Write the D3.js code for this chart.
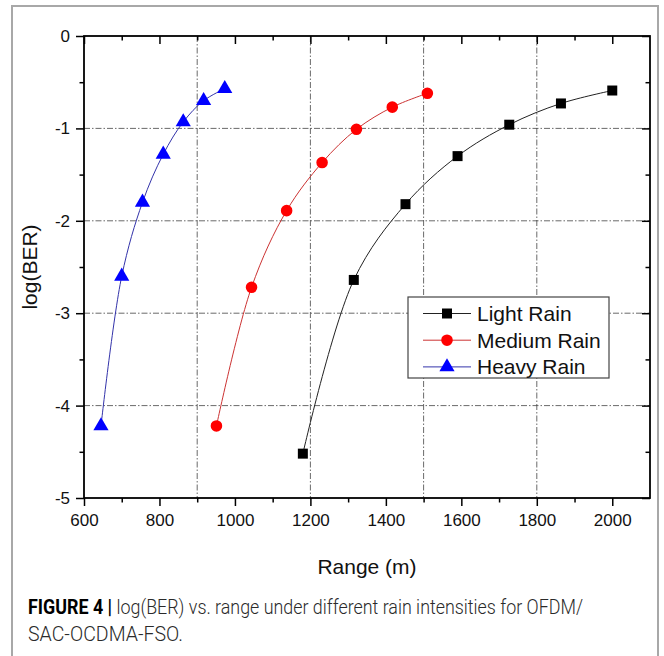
<!DOCTYPE html>
<html>
<head>
<meta charset="utf-8">
<script src="https://cdn.jsdelivr.net/npm/d3@7/dist/d3.min.js"></script>
<style>
  html, body { margin: 0; padding: 0; background: #fff; }
  svg { display: block; }
</style>
</head>
<body>
<svg id="chart" width="664" height="656"></svg>
<script>
// ---- data ----
const lightRange  = [1180, 1315, 1452, 1590, 1727, 1864, 2000];
const lightBER    = [-4.52, -2.64, -1.82, -1.30, -0.96, -0.73, -0.59];
const mediumRange = [951, 1044, 1137, 1231, 1322, 1417, 1510];
const mediumBER   = [-4.22, -2.72, -1.89, -1.37, -1.01, -0.77, -0.62];
const heavyRange  = [645, 700, 755, 810, 863, 917, 973];
const heavyBER    = [-4.22, -2.60, -1.80, -1.28, -0.93, -0.70, -0.57];
const seriesNames = ["Light Rain", "Medium Rain", "Heavy Rain"];
const xTickValues = [600, 800, 1000, 1200, 1400, 1600, 1800, 2000];
const yTickValues = [0, -1, -2, -3, -4, -5];
const xGridValues = [900, 1200, 1500, 1800];
const yGridValues = [-1, -2, -3, -4];
const xLabel = "Range (m)";
const yLabel = "log(BER)";
const captionBold = "FIGURE 4 |";
const captionLine1 = " log(BER) vs. range under different rain intensities for OFDM/";
const captionLine2 = "SAC-OCDMA-FSO.";

(function () {
const svg = d3.select("#chart");
const FONT = "'Liberation Sans', Arial, sans-serif";

// outer frame
svg.append("rect").attr("x", 12).attr("y", 6).attr("width", 646).attr("height", 660)
  .attr("fill", "none").attr("stroke", "#a8a8a8").attr("stroke-width", 2);

const pL = 84, pR = 650, pT = 36, pB = 498;
const x = d3.scaleLinear().domain([600, 2100]).range([pL, pR]);
const y = d3.scaleLinear().domain([-5, 0]).range([pB, pT]);

// grid
const grid = svg.append("g").attr("stroke", "#444").attr("stroke-width", 0.8)
  .attr("stroke-dasharray", "6,2,1.5,2");
grid.selectAll("line.v").data(xGridValues).join("line").attr("class", "v")
  .attr("x1", d => x(d)).attr("x2", d => x(d)).attr("y1", pT).attr("y2", pB);
grid.selectAll("line.h").data(yGridValues).join("line").attr("class", "h")
  .attr("y1", d => y(d)).attr("y2", d => y(d)).attr("x1", pL).attr("x2", pR);

// axes
const minorX = d3.range(700, 2100, 200);
const minorY = d3.range(-4.5, 0, 1);
const fmt = d => String(d);
const MAJ = 8, MIN = 4.5;

function styleAxis(g) {
  g.select(".domain").remove();
  g.selectAll("line").attr("stroke", "#000").attr("stroke-width", 1.5);
  g.selectAll("text").attr("font-family", FONT).attr("font-size", 17).attr("fill", "#111");
}
svg.append("g").attr("transform", `translate(0,${pB})`)
  .call(d3.axisBottom(x).tickValues(xTickValues).tickSize(MAJ).tickPadding(8).tickFormat(fmt))
  .call(styleAxis);
svg.append("g").attr("transform", `translate(0,${pB})`)
  .call(d3.axisBottom(x).tickValues(minorX).tickSize(MIN).tickFormat(""))
  .call(styleAxis);
svg.append("g").attr("transform", `translate(${pL},0)`)
  .call(d3.axisLeft(y).tickValues(yTickValues).tickSize(MAJ).tickPadding(6).tickFormat(fmt))
  .call(styleAxis);
svg.append("g").attr("transform", `translate(${pL},0)`)
  .call(d3.axisLeft(y).tickValues(minorY).tickSize(MIN).tickFormat(""))
  .call(styleAxis);
svg.append("g").attr("transform", `translate(0,${pT})`)
  .call(d3.axisTop(x).tickValues(xTickValues).tickSize(-MAJ).tickFormat(""))
  .call(styleAxis);
svg.append("g").attr("transform", `translate(0,${pT})`)
  .call(d3.axisTop(x).tickValues(minorX).tickSize(-MIN).tickFormat(""))
  .call(styleAxis);
svg.append("g").attr("transform", `translate(${pR},0)`)
  .call(d3.axisRight(y).tickValues(yTickValues).tickSize(-MAJ).tickFormat(""))
  .call(styleAxis);
svg.append("g").attr("transform", `translate(${pR},0)`)
  .call(d3.axisRight(y).tickValues(minorY).tickSize(-MIN).tickFormat(""))
  .call(styleAxis);

svg.append("rect").attr("x", pL).attr("y", pT).attr("width", pR - pL).attr("height", pB - pT)
  .attr("fill", "none").attr("stroke", "#000").attr("stroke-width", 1.8);

// series
const series = [
  { name: seriesNames[0], xs: lightRange, ys: lightBER, color: "#000", line: "#222", shape: d3.symbolSquare, size: 100 },
  { name: seriesNames[1], xs: mediumRange, ys: mediumBER, color: "#ff0000", line: "#c33", shape: d3.symbolCircle, size: 105 },
  { name: seriesNames[2], xs: heavyRange, ys: heavyBER, color: "#0000ff", line: "#33a", shape: d3.symbolTriangle, size: 100 }
];
const lineGen = d3.line().x(d => x(d[0])).y(d => y(d[1])).curve(d3.curveCatmullRom.alpha(0.5));
series.forEach(s => {
  const pts = s.xs.map((v, i) => [v, s.ys[i]]);
  svg.append("path").datum(pts).attr("d", lineGen)
    .attr("fill", "none").attr("stroke", s.line).attr("stroke-width", 1);
  svg.append("g").selectAll("path").data(pts).join("path")
    .attr("d", d3.symbol().type(s.shape).size(s.size))
    .attr("transform", d => `translate(${x(d[0])},${y(d[1])})`)
    .attr("fill", s.color);
});

// legend
const lg = svg.append("g");
lg.append("rect").attr("x", 408).attr("y", 297).attr("width", 201).attr("height", 81)
  .attr("fill", "#fff").attr("stroke", "#444").attr("stroke-width", 1.2);
series.forEach((s, i) => {
  const cy = 313.5 + i * 26.7;
  lg.append("line").attr("x1", 423).attr("x2", 471).attr("y1", cy).attr("y2", cy)
    .attr("stroke", s.line).attr("stroke-width", 1);
  lg.append("path").attr("d", d3.symbol().type(s.shape).size(s.size)())
    .attr("transform", `translate(447,${cy})`).attr("fill", s.color);
  lg.append("text").attr("x", 477).attr("y", cy).attr("dy", "0.36em")
    .attr("font-family", FONT).attr("font-size", 21).attr("fill", "#111").text(s.name);
});

// axis labels
svg.append("text").attr("x", 367).attr("y", 574).attr("text-anchor", "middle")
  .attr("font-family", FONT).attr("font-size", 21).attr("fill", "#111").text(xLabel);
svg.append("text").attr("transform", `translate(37,${(pT + pB) / 2}) rotate(-90)`)
  .attr("text-anchor", "middle").attr("font-family", FONT).attr("font-size", 21).attr("fill", "#111").text(yLabel);

// caption
const CAPF = "Roboto, 'Noto Sans', sans-serif";
const c1 = svg.append("text").attr("x", 28).attr("y", 614).attr("font-family", CAPF)
  .attr("font-size", 19.5).attr("fill", "#2a2a2a").attr("textLength", 555).attr("lengthAdjust", "spacingAndGlyphs");
c1.append("tspan").attr("font-weight", "bold").attr("fill", "#000").text(captionBold);
c1.append("tspan").attr("font-weight", 300).text(captionLine1);
svg.append("text").attr("x", 28).attr("y", 641).attr("font-family", CAPF).attr("font-weight", 300)
  .attr("font-size", 19.5).attr("fill", "#2a2a2a").attr("textLength", 155).attr("lengthAdjust", "spacingAndGlyphs")
  .text(captionLine2);
})();
</script>
</body>
</html>
